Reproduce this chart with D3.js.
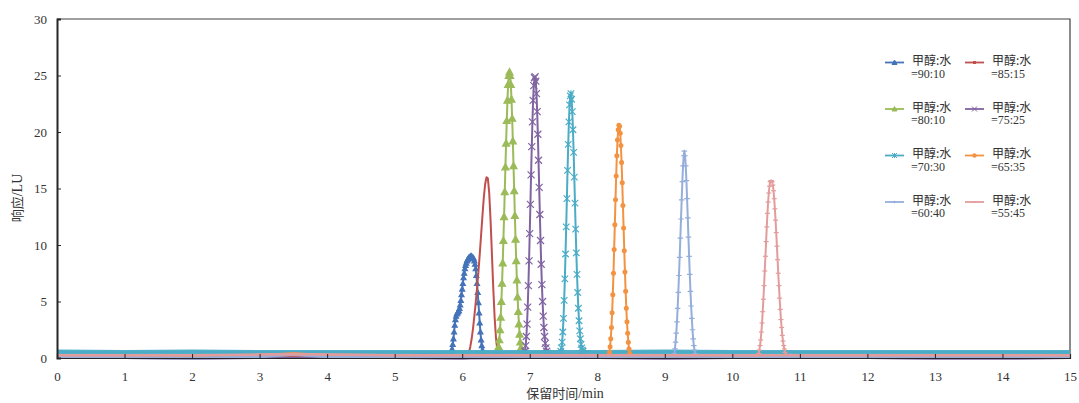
<!DOCTYPE html>
<html><head><meta charset="utf-8">
<script src="https://cdn.jsdelivr.net/npm/d3@7"></script>
<style>
html,body{margin:0;padding:0;background:#fff;}
svg{display:block;}
</style></head>
<body>
<svg id="chart" width="1079" height="403"></svg>
<script>
// ---------------- data ----------------
const legendHead = "甲醇:水";
const seriesRatios = ["=90:10","=85:15","=80:10","=75:25","=70:30","=65:35","=60:40","=55:45"];
const xTicks = [0,1,2,3,4,5,6,7,8,9,10,11,12,13,14,15];
const yTicks = [0,5,10,15,20,25,30];
const xTitle = "保留时间/min";
const yTitle = "响应/LU";

// peak sampling: first time point (min) and sampling interval (min)
const peakStart = [5.84, 6.08, 6.52, 6.92, 7.46, 8.17, 9.13, 10.38];
const sampleStep = [0.01, 0.02, 0.01, 0.01, 0.01, 0.01, 0.01, 0.01];

const peak90_10 = [0.5,0.8,1.2,1.7,2.3,2.9,3.4,3.7,3.9,4.0,4.1,4.2,4.4,4.7,5.1,5.6,6.1,6.6,7.1,7.5,7.9,8.2,8.4,8.6,8.7,8.8,8.9,8.9,9.0,9.0,9.0,8.9,8.9,8.8,8.6,8.3,7.9,7.3,6.6,5.8,4.9,4.0,3.1,2.3,1.6,1.1,0.7,0.5,0.3];
const peak85_15 = [0.2,0.5,1.0,1.7,2.6,3.7,4.9,6.2,7.6,9.2,10.9,12.6,14.2,15.4,16.0,15.9,14.6,12.2,9.2,6.2,3.6,1.8,0.7,0.3];
const peak80_10 = [0.3,0.6,1.0,1.6,2.5,3.6,5.0,6.6,8.4,10.4,12.5,14.7,16.9,19.0,21.0,22.8,24.2,25.0,25.3,25.0,24.2,22.9,21.2,19.2,17.0,14.8,12.6,10.5,8.6,6.9,5.4,4.1,3.0,2.1,1.4,0.9,0.5];
const peak75_25 = [0.3,0.6,1.1,1.9,3.0,4.5,6.4,8.6,11.0,13.6,16.2,18.7,20.9,22.8,24.1,24.8,24.9,24.5,23.4,21.8,19.8,17.5,15.1,12.7,10.4,8.3,6.5,5.0,3.7,2.7,1.9,1.3,0.9,0.6,0.4];
const peak70_30 = [0.6,0.9,1.4,2.3,3.5,5.1,7.0,9.2,11.6,14.1,16.6,18.9,20.9,22.4,23.2,23.4,22.9,21.8,20.2,18.2,16.0,13.7,11.4,9.3,7.4,5.8,4.4,3.3,2.4,1.7,1.2,0.9,0.7,0.6];
const peak65_35 = [0.2,0.5,1.0,1.7,2.7,4.0,5.6,7.5,9.6,11.8,14.0,16.1,17.9,19.3,20.2,20.6,20.5,19.9,18.8,17.3,15.5,13.5,11.5,9.5,7.6,5.9,4.4,3.2,2.2,1.4,0.8,0.4,0.2];
const peak60_40 = [0.2,0.4,0.8,1.4,2.2,3.2,4.4,5.8,7.3,8.9,10.6,12.3,14.0,15.6,17.0,17.9,18.3,17.9,17.0,15.7,14.1,12.4,10.7,9.0,7.4,5.9,4.6,3.5,2.5,1.7,1.1,0.7,0.4,0.2];
const peak55_45 = [0.2,0.4,0.7,1.1,1.6,2.3,3.1,4.1,5.2,6.4,7.7,9.0,10.3,11.6,12.8,13.8,14.6,15.2,15.6,15.7,15.7,15.6,15.3,14.8,14.1,13.2,12.2,11.1,9.9,8.7,7.5,6.4,5.3,4.3,3.4,2.7,2.0,1.5,1.1,0.8,0.5,0.3];

// baseline readings (min) and levels per series
const baseTimes = [0,1,2,3,3.5,4,5,6,7,8,9,10,11,12,13,14,15];
const base90_10 = [0.25,0.2,0.2,0.2,0.25,0.2,0.2,0.25,0.2,0.2,0.2,0.2,0.2,0.2,0.2,0.2,0.2];
const base85_15 = [0.15,0.15,0.1,0.15,0.2,0.15,0.15,0.1,0.1,0.15,0.15,0.15,0.15,0.1,0.15,0.15,0.15];
const base80_10 = [0.2,0.2,0.2,0.25,0.3,0.2,0.2,0.2,0.2,0.2,0.2,0.2,0.2,0.2,0.2,0.2,0.2];
const base75_25 = [0.0,0.0,-0.05,0.0,0.0,0.0,0.0,-0.05,0.0,0.0,-0.05,0.0,0.0,0.0,-0.05,-0.05,0.0];
const base70_30 = [0.55,0.5,0.55,0.5,0.5,0.5,0.5,0.5,0.5,0.5,0.55,0.5,0.5,0.5,0.5,0.5,0.5];
const base65_35 = [0.2,0.2,0.2,0.25,0.4,0.25,0.2,0.2,0.2,0.2,0.15,0.2,0.2,0.2,0.2,0.2,0.2];
const base60_40 = [0.05,0.05,0.0,0.1,0.3,0.1,0.05,0.05,0.05,0.05,0.05,0.05,0.05,0.05,0.05,0.05,0.05];
const base55_45 = [0.25,0.25,0.25,0.3,0.35,0.3,0.25,0.25,0.25,0.25,0.25,0.25,0.25,0.25,0.25,0.25,0.25];

const peaks = [peak90_10, peak85_15, peak80_10, peak75_25, peak70_30, peak65_35, peak60_40, peak55_45];
const bases = [base90_10, base85_15, base80_10, base75_25, base70_30, base65_35, base60_40, base55_45];

// ---------------- style ----------------
const colors = ["#4573B9","#C0504D","#9BBB59","#8064A2","#4BACC6","#F39240","#95AEDB","#E39C9C"];
const markers = ["tri","none","tri","x","star","circle","plus","dash"];
const markerSize = [5,0,7,7,6.5,5,5.5,5];
const baseWidth = [2.5,2,2.5,2,4.5,2.5,3,2.5];

const svg = d3.select("#chart");
const x = d3.scaleLinear().domain([0,15]).range([57,1070]);
const y = d3.scaleLinear().domain([0,30]).range([358,19]);

const serif = "'Liberation Serif','Times New Roman',serif";
const cjk = "'Noto Sans CJK SC','Noto Sans',sans-serif";

svg.append("defs").append("clipPath").attr("id","clip")
  .append("rect").attr("x",57).attr("y",19).attr("width",1013).attr("height",341);

// frame (top + right)
svg.append("path").attr("d",`M${x(0)},${y(30)}H${x(15)}V${y(0)}`)
  .attr("fill","none").attr("stroke","#404040").attr("stroke-width",1.2);

// build series
const series = peaks.map((pk,i) => {
  const t0 = peakStart[i], st = sampleStep[i];
  const pts = pk.map((v,k) => ({t: +(t0 + k*st).toFixed(3), v}));
  const tEnd = pts[pts.length-1].t;
  const basePts = baseTimes.map((t,k)=>({t, v: bases[i][k]}));
  const all = basePts.filter(p => p.t < t0 || p.t > tEnd).concat(pts).sort((a,b)=>a.t-b.t);
  return {i, pts, basePts, all};
});

const line = d3.line().x(d=>x(d.t)).y(d=>y(d.v));
const g = svg.append("g").attr("clip-path","url(#clip)");

function markerPath(type, s){
  const h = s/2;
  switch(type){
    case "tri": return `M0,${-h}L${h},${h*0.8}L${-h},${h*0.8}Z`;
    case "x": return `M${-h},${-h}L${h},${h}M${-h},${h}L${h},${-h}`;
    case "star": return `M${-h},${-h}L${h},${h}M${-h},${h}L${h},${-h}M0,${-h}V${h}`;
    case "plus": return `M${-h},0H${h}M0,${-h*0.5}V${h*0.5}`;
    case "dash": return `M${-h},0H${h}`;
    default: return "";
  }
}

series.forEach(s => {
  const c = colors[s.i];
  g.append("path").datum(s.basePts).attr("d", line)
    .attr("fill","none").attr("stroke",c).attr("stroke-width",baseWidth[s.i]).attr("opacity",0.95);
  g.append("path").datum(s.all).attr("d", line)
    .attr("fill","none").attr("stroke",c).attr("stroke-width",2).attr("stroke-linejoin","round");
  const m = markers[s.i];
  if (m === "circle"){
    g.selectAll(null).data(s.pts).enter().append("circle")
      .attr("cx",d=>x(d.t)).attr("cy",d=>y(d.v)).attr("r",markerSize[s.i]/2)
      .attr("fill",c);
  } else if (m !== "none"){
    const p = markerPath(m, markerSize[s.i]);
    const filled = m === "tri";
    g.selectAll(null).data(s.pts).enter().append("path")
      .attr("transform",d=>`translate(${x(d.t)},${y(d.v)})`)
      .attr("d",p)
      .attr("fill", filled ? c : "none")
      .attr("stroke",c).attr("stroke-width",1.2);
  }
});

// axes
const yAxis = d3.axisLeft(y).tickValues(yTicks).tickSize(-4).tickPadding(10);
const ya = svg.append("g").attr("transform",`translate(${x(0)},0)`).call(yAxis);
ya.select(".domain").attr("stroke","#262626").attr("stroke-width",2);
ya.selectAll(".tick line").attr("stroke","#262626");
ya.selectAll("text").attr("font-family",serif).attr("font-size",13).attr("fill","#333");

const xAxis = d3.axisBottom(x).tickValues(xTicks).tickSize(-4).tickPadding(14).tickFormat(d3.format("d"));
const xa = svg.append("g").attr("transform",`translate(0,${y(0)})`).call(xAxis);
xa.select(".domain").attr("stroke","#262626").attr("stroke-width",1.2);
xa.selectAll(".tick line").attr("stroke","#262626");
xa.selectAll("text").attr("font-family",serif).attr("font-size",13).attr("fill","#333");

// axis titles
const xt = svg.append("text").attr("x",565).attr("y",398).attr("text-anchor","middle")
  .attr("font-size",13).attr("fill","#333");
xt.append("tspan").attr("font-family",cjk).text("保留时间");
xt.append("tspan").attr("font-family",serif).attr("font-size",14).text("/min");

const yt = svg.append("text").attr("transform","translate(22,198) rotate(-90)")
  .attr("text-anchor","middle").attr("font-size",13).attr("fill","#333");
yt.append("tspan").attr("font-family",cjk).text("响应");
yt.append("tspan").attr("font-family",serif).attr("font-size",14).text("/LU");

// legend
const legX = [885, 965];
const legY0 = 62.5, legDY = 46.5;
seriesRatios.forEach((r,i) => {
  const col = i % 2, row = Math.floor(i/2);
  const lx = legX[col], ly = legY0 + row*legDY;
  const c = colors[i];
  const lg = svg.append("g");
  lg.append("line").attr("x1",lx).attr("x2",lx+19).attr("y1",ly).attr("y2",ly)
    .attr("stroke",c).attr("stroke-width",1.8);
  const m = markers[i];
  if (m === "circle"){
    lg.append("circle").attr("cx",lx+9.5).attr("cy",ly).attr("r",2.2).attr("fill",c);
  } else if (m === "none"){
    lg.append("rect").attr("x",lx+8).attr("y",ly-1.5).attr("width",3).attr("height",3).attr("fill",c);
  } else {
    lg.append("path").attr("transform",`translate(${lx+9.5},${ly})`)
      .attr("d",markerPath(m, Math.min(markerSize[i],5)))
      .attr("fill", m==="tri" ? c : "none").attr("stroke",c).attr("stroke-width",1);
  }
  lg.append("text").attr("x",lx+27).attr("y",ly+2.5).attr("font-family",cjk)
    .attr("font-size",12).attr("fill","#333").text(legendHead);
  lg.append("text").attr("x",lx+26).attr("y",ly+15).attr("font-family",serif)
    .attr("font-size",12).attr("fill","#333").text(r);
});
</script>
</body></html>
